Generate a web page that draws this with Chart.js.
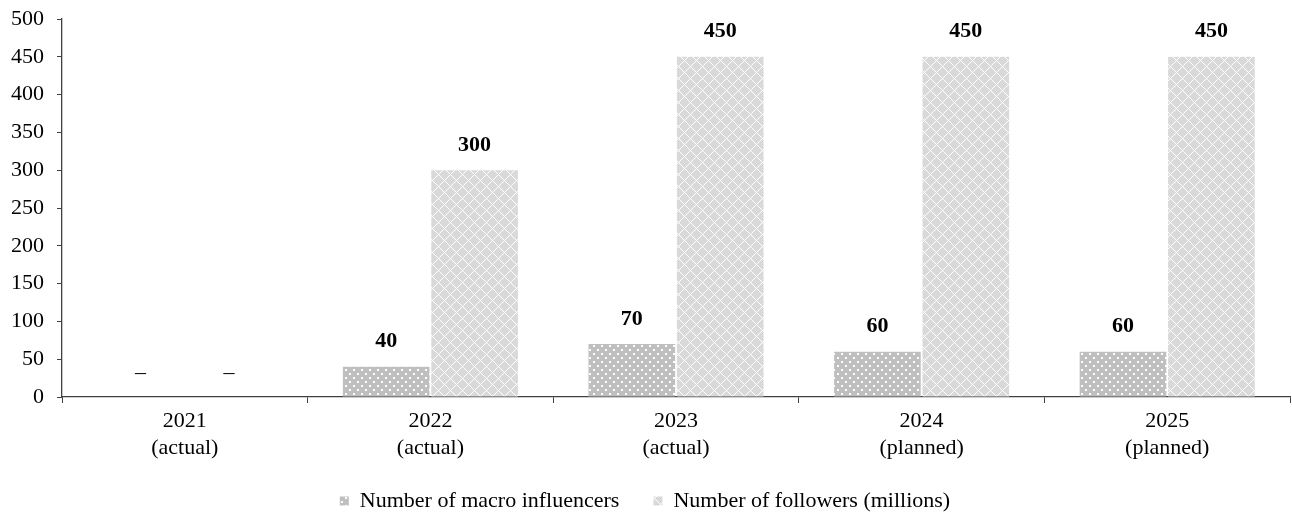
<!DOCTYPE html>
<html>
<head>
<meta charset="utf-8">
<script src="https://cdn.jsdelivr.net/npm/chart.js@4.4.1/dist/chart.umd.min.js"></script>
<style>
  html, body { margin: 0; padding: 0; background: #fff; }
  #wrap { width: 1292px; height: 515px; }
</style>
</head>
<body>
<div id="wrap"><canvas id="grafico" width="1292" height="515"></canvas></div>
<script>
// ---- dados ----
const ANOS = [
    ['2021', '(actual)'],
    ['2022', '(actual)'],
    ['2023', '(actual)'],
    ['2024', '(planned)'],
    ['2025', '(planned)']
];
const MACRO_INFLUENCERS = [0, 40, 70, 60, 60];
const SEGUIDORES_MILHOES = [0, 300, 450, 450, 450];
const TICKS_Y = { min: 0, max: 500, passo: 50 };

const FONTE = '"Liberation Serif", "Times New Roman", serif';
const COR_EIXO = '#404040';

// ---- texturas das barras ----
function padraoPontos() {
    const c = document.createElement('canvas');
    c.width = 8; c.height = 8;
    const g = c.getContext('2d');
    g.fillStyle = '#bfbfbf';
    g.fillRect(0, 0, 8, 8);
    g.fillStyle = '#ffffff';
    g.fillRect(1, 1, 2, 2);
    g.fillRect(5, 5, 2, 2);
    return g.createPattern(c, 'repeat');
}

function padraoLosangos() {
    const n = 12;
    const c = document.createElement('canvas');
    c.width = n; c.height = n;
    const g = c.getContext('2d');
    g.fillStyle = '#d9d9d9';
    g.fillRect(0, 0, n, n);
    g.fillStyle = '#ffffff';
    for (let y = 0; y < n; y++) {
        for (let x = 0; x < n; x++) {
            if ((x + y) % n === 0 || (x - y + n) % n === 0) g.fillRect(x, y, 1, 1);
        }
    }
    return g.createPattern(c, 'repeat');
}

// ---- rótulos de valor acima das barras ----
const rotulosValor = {
    id: 'rotulosValor',
    beforeDraw(chart) {
        // a segunda linha dos anos passa da altura do eixo: não cortar
        chart.scales.x.bottom = chart.height;
    },
    afterDatasetsDraw(chart) {
        const ctx = chart.ctx;
        ctx.save();
        ctx.fillStyle = '#000';
        ctx.textAlign = 'center';
        ctx.textBaseline = 'middle';
        chart.data.datasets.forEach((ds, i) => {
            chart.getDatasetMeta(i).data.forEach((barra, j) => {
                const v = ds.data[j];
                if (v === 0) {
                    ctx.font = '22px ' + FONTE;
                    ctx.fillText('–', barra.x, barra.y - 24);
                } else {
                    ctx.font = 'bold 22px ' + FONTE;
                    ctx.fillText(String(v), barra.x, barra.y - 25);
                }
            });
        });
        ctx.restore();
    }
};

new Chart(document.getElementById('grafico').getContext('2d'), {
    type: 'bar',
    data: {
        labels: ANOS,
        datasets: [
            {
                label: 'Number of macro influencers',
                data: MACRO_INFLUENCERS,
                backgroundColor: padraoPontos(),
                borderWidth: 0,
                categoryPercentage: 0.72,
                barPercentage: 0.98
            },
            {
                label: 'Number of followers (millions)',
                data: SEGUIDORES_MILHOES,
                backgroundColor: padraoLosangos(),
                borderWidth: 0,
                categoryPercentage: 0.72,
                barPercentage: 0.98
            }
        ]
    },
    options: {
        responsive: false,
        animation: false,
        layout: { padding: { top: 19, right: 2, left: 0, bottom: -7 } },
        plugins: {
            tooltip: { enabled: false },
            legend: {
                position: 'bottom',
                labels: {
                    color: '#000',
                    font: { family: FONTE, size: 22 },
                    boxWidth: 9,
                    boxHeight: 9,
                    padding: 34
                }
            }
        },
        scales: {
            y: {
                min: TICKS_Y.min,
                max: TICKS_Y.max,
                ticks: { stepSize: TICKS_Y.passo, color: '#000', padding: 13, font: { family: FONTE, size: 22 } },
                grid: { drawOnChartArea: false, tickLength: 5, color: COR_EIXO },
                border: { color: COR_EIXO, width: 1.3 },
                afterFit: s => {
                    s.width = 62;
                    s.paddingTop = 0;
                    s.paddingBottom = 0;
                }
            },
            x: {
                ticks: { color: '#000', padding: 5, font: { family: FONTE, size: 22, lineHeight: 1.23 } },
                grid: { drawOnChartArea: false, tickLength: 6, color: COR_EIXO, offset: true },
                border: { color: COR_EIXO, width: 1.3 },
                afterFit: s => { s.height = 59; }
            }
        }
    },
    plugins: [rotulosValor]
});
</script>
</body>
</html>
